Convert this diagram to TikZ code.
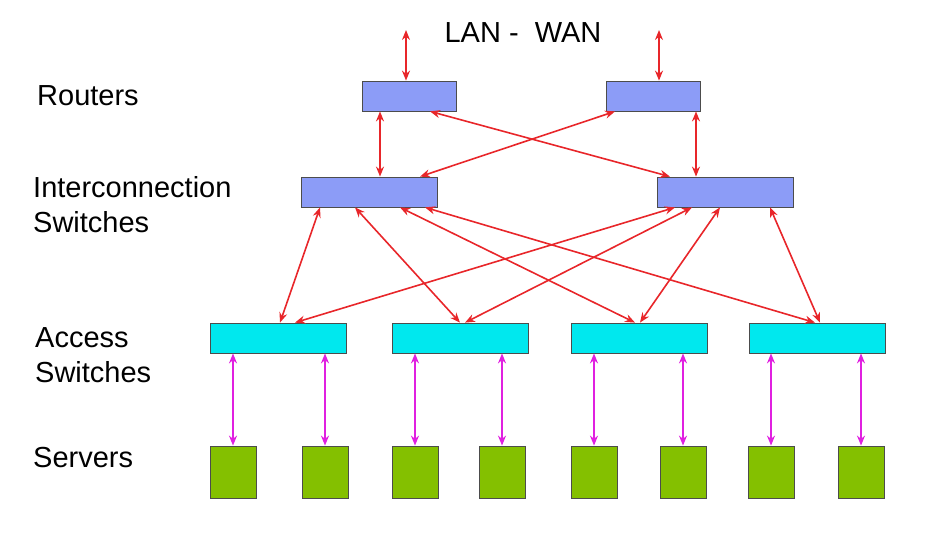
\documentclass[tikz,border=0pt]{standalone}
\usepackage{fontspec}
\setmainfont{Liberation Sans}
\usetikzlibrary{arrows.meta}
\definecolor{rb}{HTML}{8C9CF7}
\definecolor{cy}{HTML}{00E8EE}
\definecolor{gr}{HTML}{84C000}
\definecolor{ra}{HTML}{E8262A}
\definecolor{ma}{HTML}{E020E0}
\begin{document}
\begin{tikzpicture}[x=1pt,y=-1pt,
  box/.style={draw=black!70,line width=0.8pt,minimum height=30pt,inner sep=0pt},
  rbox/.style={box,fill=rb,minimum width=94pt},
  ibox/.style={box,fill=rb,minimum width=136pt},
  abox/.style={box,fill=cy,minimum width=136pt},
  sbox/.style={box,fill=gr,minimum width=46pt,minimum height=52pt},
  lab/.style={font=\fontsize{29}{35}\selectfont,align=left,anchor=west,inner sep=0pt},
  rar/.style={ra,line width=1.6pt,{Stealth[length=10pt,width=8pt]}-{Stealth[length=10pt,width=8pt]}},
  mar/.style={ma,line width=1.6pt,{Stealth[length=10pt,width=8pt]}-{Stealth[length=10pt,width=8pt]}}]
\useasboundingbox (0,0) rectangle (939,541);
\node[lab,anchor=center] (lw) at (523,33) {LAN -\ \ WAN};
\node[lab] (lr) at (37,96) {Routers};
\node[lab] (li) at (33,205) {Interconnection\\Switches};
\node[lab] (la) at (35,355) {Access\\Switches};
\node[lab] (ls) at (33,458) {Servers};
\node[rbox] (r1) at (409,96) {};
\node[rbox] (r2) at (653,96) {};
\node[ibox] (i1) at (369,192) {};
\node[ibox] (i2) at (725,192) {};
\foreach \n/\x in {1/278,2/460,3/639,4/817} \node[abox] (a\n) at (\x,338) {};
\foreach \n/\x in {1/233,2/325,3/415,4/502,5/594,6/683,7/771,8/861} \node[sbox] (s\n) at (\x,472) {};
\coordinate (t1) at (406,30);
\coordinate (t2) at (659,30);
\draw[rar] (t1) -- (r1.north -| t1);
\draw[rar] (t2) -- (r2.north -| t2);
\draw[rar] ([xshift=-29pt]r1.south) -- ([xshift=11pt]i1.north);
\draw[rar] ([xshift=43pt]r2.south) -- ([xshift=-29pt]i2.north);
\draw[rar] ([xshift=21pt]r1.south) -- ([xshift=-55pt]i2.north);
\draw[rar] ([xshift=-38pt]r2.south) -- ([xshift=51pt]i1.north);
\draw[rar] ([xshift=-49pt]i1.south) -- ([xshift=2pt]a1.north);
\draw[rar] ([xshift=-14pt]i1.south) -- ([xshift=0pt]a2.north);
\draw[rar] ([xshift=31pt]i1.south) -- ([xshift=-4pt]a3.north);
\draw[rar] ([xshift=56pt]i1.south) -- ([xshift=-2pt]a4.north);
\draw[rar] ([xshift=-50pt]i2.south) -- ([xshift=17pt]a1.north);
\draw[rar] ([xshift=-33pt]i2.south) -- ([xshift=5pt]a2.north);
\draw[rar] ([xshift=-5pt]i2.south) -- ([xshift=1pt]a3.north);
\draw[rar] ([xshift=45pt]i2.south) -- ([xshift=3pt]a4.north);
\foreach \n/\a in {1/1,2/1,3/2,4/2,5/3,6/3,7/4,8/4}
  \draw[mar] (s\n.north) -- (s\n.north |- a\a.south);
\end{tikzpicture}
\end{document}
